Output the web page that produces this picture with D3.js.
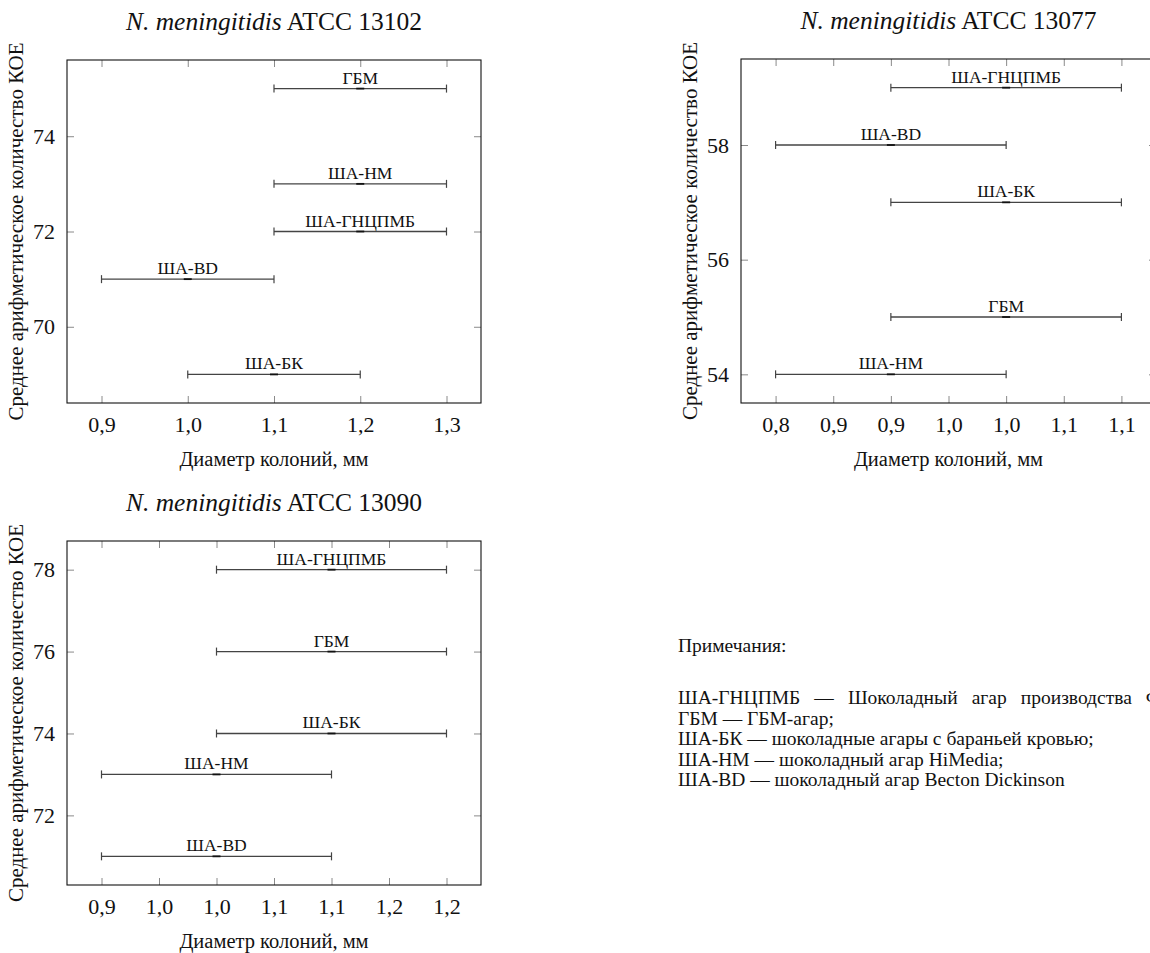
<!DOCTYPE html>
<html>
<head>
<meta charset="utf-8">
<script src="https://cdn.jsdelivr.net/npm/d3@7"></script>
<style>
  html, body { margin: 0; padding: 0; background: #fff; }
  svg { display: block; }
  svg text { font-family: 'Liberation Serif', 'DejaVu Serif', serif; }
</style>
</head>
<body>
<svg id="fig" width="1150" height="953"></svg>
<script>
// ---- Data -------------------------------------------------------------
// Strain 13102
const titleA = "ATCC 13102";
const mediaA = ["ГБМ", "ША-НМ", "ША-ГНЦПМБ", "ША-BD", "ША-БК"];
const diamA  = [1.2, 1.2, 1.2, 1.0, 1.1];   // mean colony diameter, mm
const cfuA   = [75, 73, 72, 71, 69];        // mean CFU count
const xTicksA = [0.9, 1.0, 1.1, 1.2, 1.3];
const xTickLabelsA = ["0,9", "1,0", "1,1", "1,2", "1,3"];
const yTicksA = [70, 72, 74];

// Strain 13077
const titleB = "ATCC 13077";
const mediaB = ["ША-ГНЦПМБ", "ША-BD", "ША-БК", "ГБМ", "ША-НМ"];
const diamB  = [1.0, 0.9, 1.0, 1.0, 0.9];
const cfuB   = [59, 58, 57, 55, 54];
const xTicksB = [0.80, 0.85, 0.90, 0.95, 1.00, 1.05, 1.10];
const xTickLabelsB = ["0,8", "0,9", "0,9", "1,0", "1,0", "1,1", "1,1"];
const yTicksB = [54, 56, 58];

// Strain 13090
const titleC = "ATCC 13090";
const mediaC = ["ША-ГНЦПМБ", "ГБМ", "ША-БК", "ША-НМ", "ША-BD"];
const diamC  = [1.1, 1.1, 1.1, 1.0, 1.0];
const cfuC   = [78, 76, 74, 73, 71];
const xTicksC = [0.90, 0.95, 1.00, 1.05, 1.10, 1.15, 1.20];
const xTickLabelsC = ["0,9", "1,0", "1,0", "1,1", "1,1", "1,2", "1,2"];
const yTicksC = [72, 74, 76, 78];

const diamError = 0.1;   // ± error on colony diameter, mm

const notesHeader = "Примечания:";
const notesLines = [
  "ША-ГНЦПМБ — Шоколадный агар производства ФБУН ГНЦ ПМБ;",
  "ГБМ — ГБМ-агар;",
  "ША-БК — шоколадные агары с бараньей кровью;",
  "ША-НМ — шоколадный агар HiMedia;",
  "ША-BD — шоколадный агар Becton Dickinson"
];

const xAxisTitle = "Диаметр колоний, мм";
const yAxisTitle = "Среднее арифметическое количество КОЕ";
const species = "N. meningitidis";

// ---- Drawing ----------------------------------------------------------
const svg = d3.select("#fig");

// Axis limits padded by 10% of the data range on each side
function padded(values, frac) {
  const [lo, hi] = d3.extent(values);
  const pad = (hi - lo) * frac;
  return [lo - pad, hi + pad];
}

function panel(opts) {
  const { box, title, media, diam, cfu, xTicks, xTickLabels, yTicks } = opts;
  const lows = diam.map(d => d - diamError);
  const highs = diam.map(d => d + diamError);
  const x = d3.scaleLinear()
    .domain(padded(lows.concat(highs), 0.1))
    .range([box.left, box.right]);
  const y = d3.scaleLinear()
    .domain(padded(cfu, 0.1))
    .range([box.bottom, box.top]);

  const g = svg.append("g");
  const w = box.right - box.left, h = box.bottom - box.top;
  const tickLen = 7;

  // Inward ticks on all four sides
  const fmt = (v) => xTickLabels[xTicks.indexOf(v)];
  const axB = g.append("g").attr("transform", `translate(0,${box.bottom})`)
    .call(d3.axisBottom(x).tickValues(xTicks).tickFormat(fmt).tickSizeInner(-tickLen).tickSizeOuter(0).tickPadding(13));
  const axT = g.append("g").attr("transform", `translate(0,${box.top})`)
    .call(d3.axisTop(x).tickValues(xTicks).tickFormat("").tickSizeInner(-tickLen).tickSizeOuter(0));
  const axL = g.append("g").attr("transform", `translate(${box.left},0)`)
    .call(d3.axisLeft(y).tickValues(yTicks).tickFormat(d3.format("d")).tickSizeInner(-tickLen).tickSizeOuter(0).tickPadding(12));
  const axR = g.append("g").attr("transform", `translate(${box.right},0)`)
    .call(d3.axisRight(y).tickValues(yTicks).tickFormat("").tickSizeInner(-tickLen).tickSizeOuter(0));
  [axB, axT, axL, axR].forEach(a => {
    a.attr("font-family", null);
    a.select(".domain").remove();
    a.selectAll(".tick line").attr("stroke", "#8a8a8a").attr("stroke-width", 1);
    a.selectAll(".tick text").attr("font-size", 22).attr("fill", "#111");
  });
  axB.selectAll(".tick text").attr("dy", "0.71em");

  // Frame
  g.append("rect")
    .attr("x", box.left).attr("y", box.top).attr("width", w).attr("height", h)
    .attr("fill", "none").attr("stroke", "#111").attr("stroke-width", 1.1);

  // Error bars
  const rows = media.map((m, i) => ({ m, c: diam[i], lo: lows[i], hi: highs[i], v: cfu[i] }));
  const bars = g.append("g").selectAll("g").data(rows).join("g");
  bars.append("line")
    .attr("x1", d => x(d.lo)).attr("x2", d => x(d.hi))
    .attr("y1", d => y(d.v)).attr("y2", d => y(d.v))
    .attr("stroke", "#444").attr("stroke-width", 1.3);
  bars.append("line")
    .attr("x1", d => x(d.lo)).attr("x2", d => x(d.lo))
    .attr("y1", d => y(d.v) - 4).attr("y2", d => y(d.v) + 4)
    .attr("stroke", "#444").attr("stroke-width", 1.2);
  bars.append("line")
    .attr("x1", d => x(d.hi)).attr("x2", d => x(d.hi))
    .attr("y1", d => y(d.v) - 4).attr("y2", d => y(d.v) + 4)
    .attr("stroke", "#444").attr("stroke-width", 1.2);
  bars.append("line")
    .attr("x1", d => x(d.c) - 4).attr("x2", d => x(d.c) + 4)
    .attr("y1", d => y(d.v)).attr("y2", d => y(d.v))
    .attr("stroke", "#111").attr("stroke-width", 1.8);
  bars.append("text")
    .attr("x", d => x(d.c)).attr("y", d => y(d.v) - 5)
    .attr("text-anchor", "middle")
    .attr("font-size", 17.5).attr("fill", "#111")
    .text(d => d.m);

  // Title
  const cx = (box.left + box.right) / 2;
  const t = g.append("text")
    .attr("x", cx).attr("y", box.top - 30)
    .attr("text-anchor", "middle")
    .attr("font-size", 25.5).attr("fill", "#111");
  t.append("tspan").attr("font-style", "italic").text(species);
  t.append("tspan").text(" " + title);

  // Axis titles
  g.append("text")
    .attr("x", cx).attr("y", box.bottom + 63)
    .attr("text-anchor", "middle")
    .attr("font-size", 20.5).attr("fill", "#111")
    .text(xAxisTitle);
  g.append("text")
    .attr("transform", `translate(${box.left - 44},${(box.top + box.bottom) / 2}) rotate(-90)`)
    .attr("text-anchor", "middle")
    .attr("font-size", 21).attr("fill", "#111")
    .text(yAxisTitle);
}

panel({ box: { left: 67, right: 481, top: 60, bottom: 403 }, title: titleA, media: mediaA, diam: diamA, cfu: cfuA,
        xTicks: xTicksA, xTickLabels: xTickLabelsA, yTicks: yTicksA });
panel({ box: { left: 741, right: 1156, top: 59, bottom: 403 }, title: titleB, media: mediaB, diam: diamB, cfu: cfuB,
        xTicks: xTicksB, xTickLabels: xTickLabelsB, yTicks: yTicksB });
panel({ box: { left: 67, right: 481, top: 541, bottom: 885 }, title: titleC, media: mediaC, diam: diamC, cfu: cfuC,
        xTicks: xTicksC, xTickLabels: xTickLabelsC, yTicks: yTicksC });

// Notes block; the first entry is a full, justified line that runs past the edge
const notesX = 678, firstBreakX = 1141, notesSize = 19.5;
const notes = svg.append("g").attr("font-size", notesSize).attr("fill", "#111");
notes.append("text").attr("x", notesX).attr("y", 652).text(notesHeader);
const noteText = notes.selectAll("text.line").data(notesLines).join("text")
  .attr("class", "line")
  .attr("x", notesX)
  .attr("y", (d, i) => 704 + i * 20.5)
  .text(d => d);

// Stretch the word gaps of the first entry as a justified line would be
const words = notesLines[0].split(" ");
const breakWord = words.findIndex(w => w.startsWith("Ф"));
const prefix = words.slice(0, breakWord).join(" ") + " ";
const probe = notes.append("text").attr("x", notesX).attr("y", -100).text(prefix);
const natural = probe.node().getComputedTextLength();
probe.remove();
noteText.filter((d, i) => i === 0)
  .attr("word-spacing", Math.max(0, (firstBreakX - notesX - natural) / breakWord));
</script>
</body>
</html>
